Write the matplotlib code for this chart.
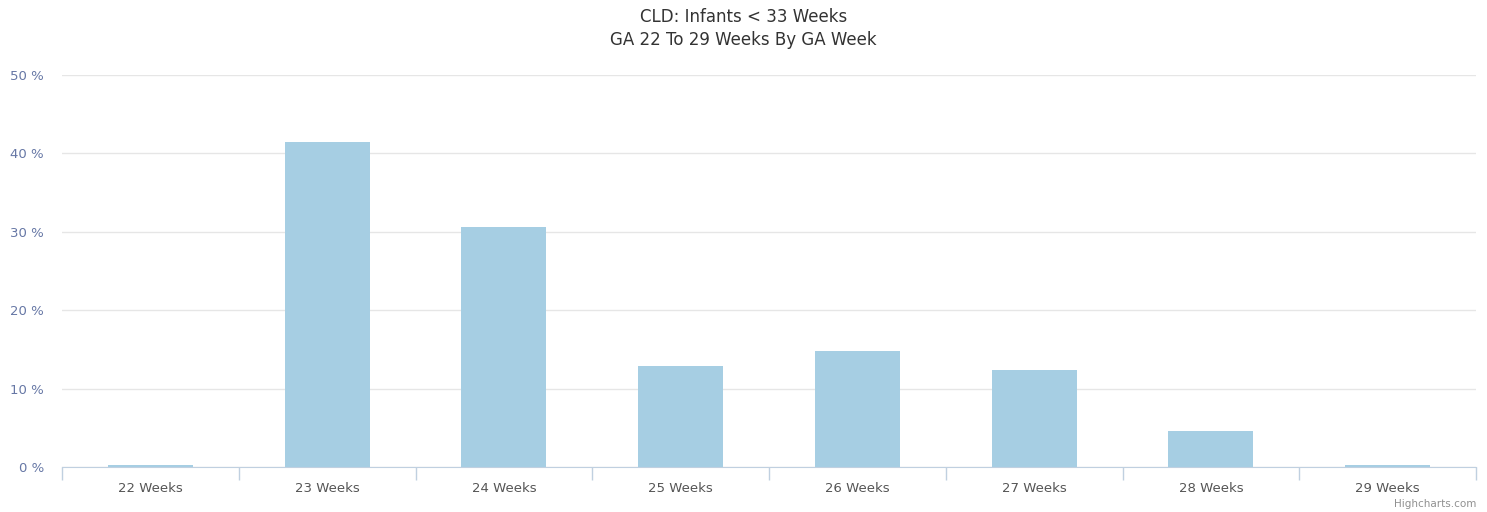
import numpy as np
import matplotlib.pyplot as plt

# Chart data
categories = ['22 Weeks', '23 Weeks', '24 Weeks', '25 Weeks',
              '26 Weeks', '27 Weeks', '28 Weeks', '29 Weeks']
values = [0.3, 41.5, 30.6, 12.9, 14.8, 12.4, 4.6, 0.3]
y_ticks = [0, 10, 20, 30, 40, 50]

W, H = 1487, 512
fig = plt.figure(figsize=(W / 100, H / 100), dpi=100)
ax = fig.add_axes([62 / W, 45 / H, 1414 / W, 392 / H])

x = np.arange(len(categories))
ax.bar(x, values, width=0.48, color='#a6cee3', zorder=3)

ax.set_xlim(-0.5, len(categories) - 0.5)
ax.set_ylim(0, 50)

# grid lines
ax.set_yticks(y_ticks)
ax.set_yticklabels([f'{t} %' for t in y_ticks], color='#6677a5', fontsize=9.5)
ax.yaxis.grid(True, color='#e6e6e6', linewidth=1, zorder=0)
ax.tick_params(axis='y', length=0, pad=13)

# x ticks between categories
ax.set_xticks(x)
ax.set_xticklabels(categories, color='#555555', fontsize=9.5)
ax.tick_params(axis='x', length=0, pad=11)
ax.set_xticks(np.arange(-0.5, len(categories)), minor=True)
ax.tick_params(axis='x', which='minor', length=9, color='#c0d0e0', width=1)

for side in ['top', 'right', 'left']:
    ax.spines[side].set_visible(False)
ax.spines['bottom'].set_color('#c0d0e0')

fig.text(0.5, 1 - 17 / H, 'CLD: Infants < 33 Weeks', ha='center', va='center',
         fontsize=12, color='#333333')
fig.text(0.5, 1 - 40 / H, 'GA 22 To 29 Weeks By GA Week', ha='center', va='center',
         fontsize=12, color='#333333')
fig.text(1476 / W, 1 - 504 / H, 'Highcharts.com', ha='right', va='center',
         fontsize=7.5, color='#909090')

fig.savefig('out.png', dpi=100)
